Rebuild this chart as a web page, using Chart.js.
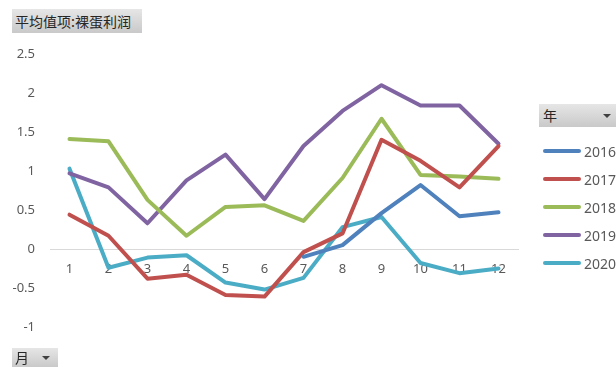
<!DOCTYPE html>
<html>
<head>
<meta charset="utf-8">
<script src="https://cdn.jsdelivr.net/npm/chart.js@4.4.1/dist/chart.umd.min.js"></script>
<style>
  html, body { margin: 0; padding: 0; background: #fff; }
  body { width: 616px; height: 367px; position: relative; overflow: hidden;
         font-family: "Noto Sans", "Noto Sans CJK SC", sans-serif; }
  #wrap { position: absolute; left: 0; top: 0; width: 616px; height: 367px; }
  .btn { position: absolute; background: linear-gradient(#e6e6e6, #c9c9c9);
         color: #262626; font-size: 14px; font-family: "Noto Sans CJK SC", sans-serif;
         box-sizing: border-box; white-space: nowrap; }
  .arrow { position: absolute; width: 0; height: 0; border-left: 4px solid transparent;
           border-right: 4px solid transparent; border-top: 4px solid #404040; }
  #legend { position: absolute; left: 543px; top: 137px; }
  .item { height: 28px; display: flex; align-items: center; font-size: 14px; color: #595959; }
  .sw { width: 38px; height: 4px; border-radius: 2px; margin-right: 3px; }
</style>
</head>
<body>
<div id="wrap"><canvas id="chart" width="616" height="367"></canvas></div>
<div class="btn" style="left:12px;top:9px;width:130px;height:24px;line-height:24px;padding-left:3px;">平均值项:裸蛋利润</div>
<div class="btn" style="left:539px;top:104px;width:77px;height:23px;line-height:23px;padding-left:4px;">年<span class="arrow" style="left:64px;top:10px;"></span></div>
<div class="btn" style="left:12px;top:348px;width:46px;height:19px;line-height:19px;padding-left:3px;">月<span class="arrow" style="left:30px;top:8px;"></span></div>
<div id="legend"></div>
<script>
const months = ["1", "2", "3", "4", "5", "6", "7", "8", "9", "10", "11", "12"];
const years = ["2016", "2017", "2018", "2019", "2020"];
const colors = ["#4F81BD", "#C0504D", "#9BBB59", "#8064A2", "#4BACC6"];

const v2016 = [null, null, null, null, null, null, -0.1, 0.05, 0.46, 0.82, 0.42, 0.47];
const v2017 = [0.44, 0.17, -0.38, -0.33, -0.59, -0.61, -0.04, 0.2, 1.4, 1.13, 0.79, 1.32];
const v2018 = [1.41, 1.38, 0.63, 0.17, 0.54, 0.56, 0.36, 0.91, 1.67, 0.95, 0.93, 0.9];
const v2019 = [0.97, 0.79, 0.33, 0.88, 1.21, 0.64, 1.32, 1.77, 2.1, 1.84, 1.84, 1.35];
const v2020 = [1.03, -0.24, -0.11, -0.08, -0.43, -0.52, -0.37, 0.28, 0.41, -0.18, -0.31, -0.25];
const series = [v2016, v2017, v2018, v2019, v2020];

const yTicks = [-1, -0.5, 0, 0.5, 1, 1.5, 2, 2.5];

const tickFont = { family: "Noto Sans", size: 13 };

new Chart(document.getElementById("chart"), {
  type: "line",
  data: {
    labels: months,
    datasets: years.map((y, i) => ({
      label: y,
      data: series[i],
      borderColor: colors[i],
      backgroundColor: colors[i],
      borderWidth: 4,
      pointRadius: 0,
      tension: 0,
      fill: false,
      borderJoinStyle: "round",
      borderCapStyle: "round",
    })),
  },
  options: {
    responsive: false,
    animation: false,
    layout: { padding: { left: 0, right: 98, top: 54, bottom: 40 } },
    plugins: { legend: { display: false }, tooltip: { enabled: false } },
    scales: {
      x: {
        position: { y: 0 },
        offset: true,
        grid: { display: false, drawTicks: false },
        border: { display: true, color: "#d9d9d9", width: 1 },
        ticks: { color: "#595959", font: tickFont, padding: 12, maxRotation: 0, autoSkip: false },
      },
      y: {
        min: yTicks[0],
        max: yTicks[yTicks.length - 1],
        afterBuildTicks: (s) => { s.ticks = yTicks.map((v) => ({ value: v })); },
        afterFit: (s) => { s.width = 50; },
        grid: { display: false, drawTicks: false },
        border: { display: false },
        ticks: { color: "#595959", font: tickFont, padding: 15, callback: (v) => String(v) },
      },
    },
  },
});

document.getElementById("legend").innerHTML = years
  .map((y, i) => `<div class="item"><div class="sw" style="background:${colors[i]}"></div>${y}</div>`)
  .join("");
</script>
</body>
</html>
